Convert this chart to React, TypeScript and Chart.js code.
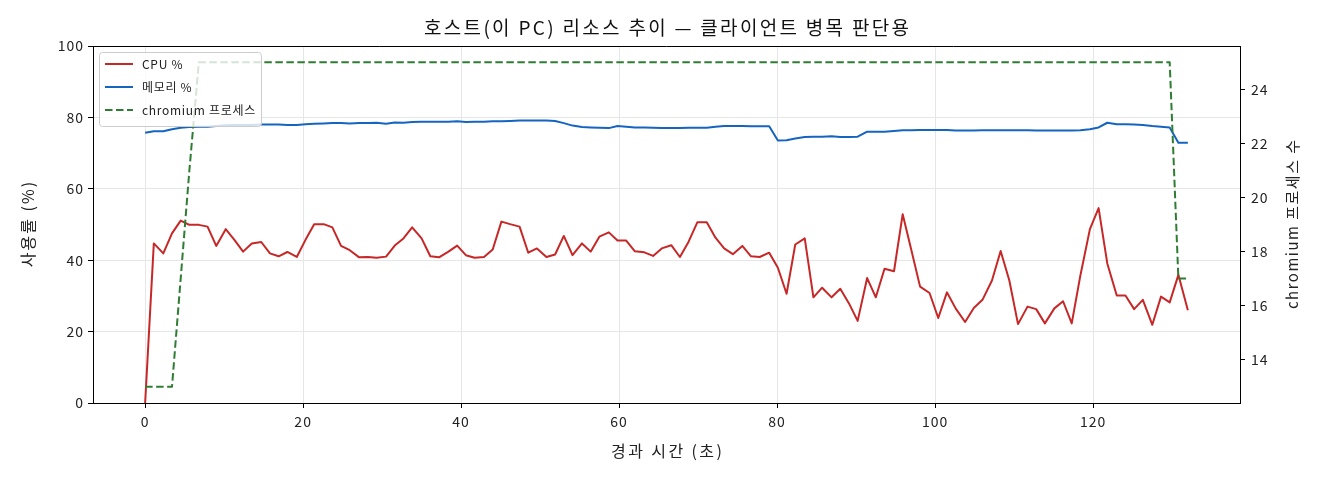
import { useEffect, useRef } from "react";
import { Chart, registerables } from "chart.js";

Chart.register(...registerables);

const FONT = "'Noto Sans CJK KR', 'Noto Sans', sans-serif";
Chart.defaults.font.family = FONT;
Chart.defaults.color = "#222";

// elapsed seconds of each sample
const times = [
  0.0, 1.1, 2.3, 3.4, 4.5, 5.6, 6.8, 7.9, 9.0, 10.2,
  11.3, 12.4, 13.5, 14.7, 15.8, 16.9, 18.0, 19.2, 20.3, 21.4,
  22.6, 23.7, 24.8, 25.9, 27.1, 28.2, 29.3, 30.5, 31.6, 32.7,
  33.8, 35.0, 36.1, 37.2, 38.4, 39.5, 40.6, 41.7, 42.9, 44.0,
  45.1, 46.2, 47.4, 48.5, 49.6, 50.8, 51.9, 53.0, 54.1, 55.3,
  56.4, 57.5, 58.7, 59.8, 60.9, 62.0, 63.2, 64.3, 65.4, 66.6,
  67.7, 68.8, 69.9, 71.1, 72.2, 73.3, 74.4, 75.6, 76.7, 77.8,
  79.0, 80.1, 81.2, 82.3, 83.5, 84.6, 85.7, 86.9, 88.0, 89.1,
  90.2, 91.4, 92.5, 93.6, 94.8, 95.9, 97.0, 98.1, 99.3, 100.4,
  101.5, 102.6, 103.8, 104.9, 106.0, 107.2, 108.3, 109.4, 110.5, 111.7,
  112.8, 113.9, 115.1, 116.2, 117.3, 118.4, 119.6, 120.7, 121.8, 123.0,
  124.1, 125.2, 126.3, 127.5, 128.6, 129.7, 130.8, 132.0,
];

const cpuPct = [
  0, 44.7, 41.9, 47.5, 51.1, 49.9, 49.9, 49.4, 44.0, 48.7,
  45.7, 42.4, 44.7, 45.1, 41.9, 41.1, 42.3, 40.9, 45.7, 50.1,
  50.1, 49.2, 44.0, 42.8, 40.8, 40.9, 40.7, 41.0, 44.1, 46.1,
  49.2, 46.1, 41.1, 40.8, 42.4, 44.1, 41.4, 40.7, 40.9, 43.0,
  50.8, 50.1, 49.4, 42.1, 43.3, 40.9, 41.6, 46.8, 41.4, 44.7,
  42.4, 46.6, 47.8, 45.5, 45.5, 42.5, 42.2, 41.2, 43.3, 44.2,
  40.9, 45.2, 50.6, 50.6, 46.3, 43.3, 41.7, 44.0, 41.1, 40.9,
  42.1, 37.9, 30.6, 44.4, 46.1, 29.6, 32.3, 29.6, 32.0, 27.9,
  23.0, 35.0, 29.6, 37.6, 36.9, 52.9, 42.8, 32.6, 30.8, 23.8,
  31.0, 26.5, 22.7, 26.6, 28.9, 34.3, 42.6, 34.3, 22.1, 27.0,
  26.3, 22.3, 26.5, 28.5, 22.3, 35.8, 48.7, 54.6, 39.1, 30.1,
  30.1, 26.3, 28.9, 21.9, 29.8, 28.2, 35.9, 26.0,
];

const memPct = [
  75.7, 76.1, 76.1, 76.7, 77.1, 77.3, 77.4, 77.4, 77.6, 77.8,
  77.9, 77.9, 77.9, 78.0, 78.0, 78.0, 77.9, 77.9, 78.1, 78.2,
  78.3, 78.4, 78.4, 78.3, 78.4, 78.4, 78.5, 78.2, 78.6, 78.5,
  78.7, 78.8, 78.8, 78.8, 78.8, 78.9, 78.7, 78.8, 78.8, 78.9,
  78.9, 79.0, 79.1, 79.1, 79.1, 79.1, 79.0, 78.4, 77.7, 77.3,
  77.2, 77.1, 77.0, 77.6, 77.4, 77.2, 77.2, 77.1, 77.0, 77.0,
  77.0, 77.1, 77.1, 77.1, 77.4, 77.6, 77.6, 77.6, 77.5, 77.5,
  77.5, 73.5, 73.6, 74.1, 74.5, 74.6, 74.6, 74.7, 74.5, 74.5,
  74.6, 76.0, 76.0, 76.0, 76.2, 76.4, 76.4, 76.5, 76.5, 76.5,
  76.5, 76.3, 76.3, 76.3, 76.4, 76.4, 76.4, 76.4, 76.4, 76.4,
  76.3, 76.3, 76.3, 76.3, 76.3, 76.4, 76.7, 77.2, 78.5, 78.1,
  78.1, 78.0, 77.9, 77.6, 77.4, 77.2, 72.9, 72.9,
];

const chromiumCount = [
  13, 13, 13, 13, 17, 21, 25, 25, 25, 25,
  25, 25, 25, 25, 25, 25, 25, 25, 25, 25,
  25, 25, 25, 25, 25, 25, 25, 25, 25, 25,
  25, 25, 25, 25, 25, 25, 25, 25, 25, 25,
  25, 25, 25, 25, 25, 25, 25, 25, 25, 25,
  25, 25, 25, 25, 25, 25, 25, 25, 25, 25,
  25, 25, 25, 25, 25, 25, 25, 25, 25, 25,
  25, 25, 25, 25, 25, 25, 25, 25, 25, 25,
  25, 25, 25, 25, 25, 25, 25, 25, 25, 25,
  25, 25, 25, 25, 25, 25, 25, 25, 25, 25,
  25, 25, 25, 25, 25, 25, 25, 25, 25, 25,
  25, 25, 25, 25, 25, 25, 17, 17,
];

const xTicks = [0, 20, 40, 60, 80, 100, 120];
const leftTicks = [0, 20, 40, 60, 80, 100];
const rightTicks = [14, 16, 18, 20, 22, 24];

const titleText = "호스트(이 PC) 리소스 추이 — 클라이언트 병목 판단용";
const xLabel = "경과 시간 (초)";
const leftLabel = "사용률 (%)";
const rightLabel = "chromium 프로세스 수";

const CPU_COLOR = "#c62828";
const MEM_COLOR = "#1565c0";
const PROC_COLOR = "#2e7d32";
const GRID = "#e6e6e6";

function drawText(ctx: any, text: string, x: number, y: number, size: number, spacing: number, rot = 0, color = "#222") {
  ctx.save();
  ctx.font = `${size}px ${FONT}`;
  ctx.letterSpacing = `${spacing}px`;
  ctx.fillStyle = color;
  ctx.textAlign = "center";
  ctx.textBaseline = "middle";
  ctx.translate(x, y);
  if (rot) ctx.rotate(rot);
  // letterSpacing adds trailing space; shift to keep the text centred
  ctx.fillText(text, spacing / 2, 0);
  ctx.restore();
}

// slightly wider tick text, like the original font
const spacingPlugin = {
  id: "spacing",
  beforeDraw(chart: any) {
    chart.ctx.letterSpacing = "1px";
  },
  afterDraw(chart: any) {
    chart.ctx.letterSpacing = "0px";
  },
};

// top spine, title, axis titles and a framed legend
const framePlugin = {
  id: "frame",
  afterDraw(chart: any) {
    const { ctx, chartArea: a } = chart;
    const cx = (a.left + a.right) / 2;
    const cy = (a.top + a.bottom) / 2;
    ctx.save();
    ctx.letterSpacing = "0px";
    ctx.strokeStyle = "#000";
    ctx.lineWidth = 1;
    ctx.beginPath();
    ctx.moveTo(a.left, a.top + 0.5);
    ctx.lineTo(a.right, a.top + 0.5);
    ctx.stroke();

    drawText(ctx, titleText, cx, 28, 19, 2.3, 0, "#111");
    drawText(ctx, xLabel, cx, 451, 16, 2.4);
    drawText(ctx, leftLabel, 28, cy, 16, 2, -Math.PI / 2);
    drawText(ctx, rightLabel, chart.width - 28, cy, 15, 1.5, -Math.PI / 2);

    const datasets = chart.data.datasets;
    ctx.font = `12px ${FONT}`;
    ctx.letterSpacing = "0.7px";
    const textW = Math.max(...datasets.map((d: any) => ctx.measureText(d.label).width));
    const bx = a.left + 6;
    const by = a.top + 6;
    const bw = 43 + textW + 5;
    const bh = 74;
    ctx.beginPath();
    ctx.roundRect(bx + 0.5, by + 0.5, bw, bh, 3);
    ctx.fillStyle = "rgba(255,255,255,0.8)";
    ctx.fill();
    ctx.strokeStyle = "#cccccc";
    ctx.stroke();

    datasets.forEach((d: any, i: number) => {
      const y = by + 12 + i * 23;
      ctx.strokeStyle = d.borderColor;
      ctx.lineWidth = 2;
      ctx.setLineDash(d.borderDash || []);
      ctx.beginPath();
      ctx.moveTo(bx + 6, y);
      ctx.lineTo(bx + 34, y);
      ctx.stroke();
      ctx.setLineDash([]);
      ctx.fillStyle = "#222";
      ctx.textAlign = "left";
      ctx.textBaseline = "middle";
      ctx.fillText(d.label, bx + 43, y);
    });
    ctx.restore();
  },
};

const tickFont = { size: 14, family: FONT };

export default function App() {
  const canvasRef = useRef<HTMLCanvasElement>(null);

  useEffect(() => {
    document.body.style.margin = "0";
    if (!canvasRef.current) return;

    const chart = new Chart(canvasRef.current, {
      type: "line",
      data: {
        datasets: [
          {
            label: "CPU %",
            data: times.map((t, i) => ({ x: t, y: cpuPct[i] })),
            borderColor: CPU_COLOR,
            borderWidth: 2,
            pointRadius: 0,
            yAxisID: "y",
            order: 2,
          },
          {
            label: "메모리 %",
            data: times.map((t, i) => ({ x: t, y: memPct[i] })),
            borderColor: MEM_COLOR,
            borderWidth: 2,
            pointRadius: 0,
            yAxisID: "y",
            order: 1,
          },
          {
            label: "chromium 프로세스",
            data: times.map((t, i) => ({ x: t, y: chromiumCount[i] })),
            borderColor: PROC_COLOR,
            borderWidth: 2,
            borderDash: [7.5, 3.5],
            pointRadius: 0,
            yAxisID: "y2",
            order: 0,
          },
        ],
      },
      options: {
        responsive: false,
        animation: false,
        events: [],
        layout: { padding: { top: 46 } },
        elements: { line: { tension: 0, borderJoinStyle: "round" } },
        plugins: {
          legend: { display: false },
          tooltip: { enabled: false },
          title: { display: false },
        },
        scales: {
          x: {
            type: "linear",
            min: -6.6,
            max: 138.6,
            afterBuildTicks: (s: any) => {
              s.ticks = xTicks.map((v) => ({ value: v }));
            },
            afterFit: (s: any) => {
              s.height = 77;
            },
            grid: { color: GRID, lineWidth: 1, tickColor: "#000", tickLength: 5, tickWidth: 1 },
            border: { color: "#000", width: 1 },
            ticks: { color: "#222", font: tickFont, padding: 5, maxRotation: 0 },
          },
          y: {
            type: "linear",
            position: "left",
            min: 0,
            max: 100,
            afterBuildTicks: (s: any) => {
              s.ticks = leftTicks.map((v) => ({ value: v }));
            },
            afterFit: (s: any) => {
              s.width = 93;
            },
            grid: { color: GRID, lineWidth: 1, tickColor: "#000", tickLength: 5, tickWidth: 1 },
            border: { color: "#000", width: 1 },
            ticks: { color: "#222", font: tickFont, padding: 4 },
          },
          y2: {
            type: "linear",
            position: "right",
            min: 12.4,
            max: 25.6,
            afterBuildTicks: (s: any) => {
              s.ticks = rightTicks.map((v) => ({ value: v }));
            },
            afterFit: (s: any) => {
              s.width = 80;
            },
            grid: { drawOnChartArea: false, tickColor: "#000", tickLength: 5, tickWidth: 1 },
            border: { color: "#000", width: 1 },
            ticks: { color: "#222", font: tickFont, padding: 6 },
          },
        },
      },
      plugins: [spacingPlugin, framePlugin],
    });

    return () => {
      chart.destroy();
    };
  }, []);

  return (
    <div style={{ width: 1320, height: 480 }}>
      <canvas ref={canvasRef} width={1320} height={480} style={{ display: "block" }} />
    </div>
  );
}
